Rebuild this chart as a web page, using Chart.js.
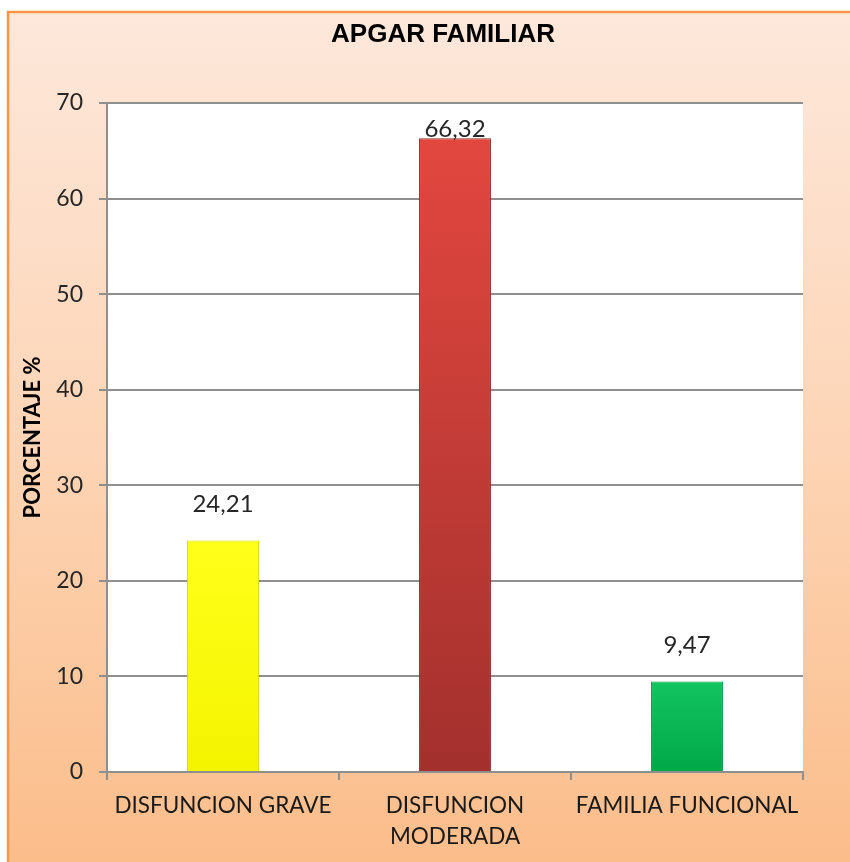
<!DOCTYPE html>
<html>
<head>
<meta charset="utf-8">
<script src="https://cdn.jsdelivr.net/npm/chart.js@4/dist/chart.umd.min.js"></script>
<style>
  html, body { margin: 0; padding: 0; background: #fff; }
  canvas { display: block; }
</style>
</head>
<body>
<canvas id="apgar" width="850" height="862"></canvas>
<script>
const titulo = 'APGAR FAMILIAR'
const categorias = ['DISFUNCION GRAVE', ['DISFUNCION', 'MODERADA'], 'FAMILIA FUNCIONAL']
const porcentajes = [24.21, 66.32, 9.47]
const yTicks = [0, 10, 20, 30, 40, 50, 60, 70]

// colores de las barras (arriba / abajo del degradado)
const coloresArriba = ['#ffff1a', '#e2473f', '#12c45f']
const coloresAbajo = ['#f4f400', '#a3302d', '#00a847']
const coloresBorde = ['#d8d800', '#8e2a28', '#009940']

const gridColor = '#8f8f8f'
const fuente = 'Lato, "Open Sans", sans-serif'

const fondoPlugin = {
  id: 'fondo',
  beforeDraw(chart) {
    const { ctx, width, height, chartArea } = chart
    ctx.save()
    ctx.fillStyle = '#ffffff'
    ctx.fillRect(0, 0, width, height)
    const grad = ctx.createLinearGradient(0, 11, 0, height)
    grad.addColorStop(0, '#fde8db')
    grad.addColorStop(0.5, '#fdd5b6')
    grad.addColorStop(1, '#fbbd8a')
    ctx.fillStyle = grad
    ctx.fillRect(7, 11, width - 7, height - 11)
    ctx.strokeStyle = '#f79646'
    ctx.lineWidth = 2.5
    ctx.beginPath()
    ctx.moveTo(8, height)
    ctx.lineTo(8, 12)
    ctx.lineTo(width, 12)
    ctx.stroke()
    ctx.fillStyle = '#ffffff'
    ctx.fillRect(chartArea.left, chartArea.top, chartArea.right - chartArea.left, chartArea.bottom - chartArea.top)
    // titulo del grafico
    ctx.fillStyle = '#000000'
    ctx.font = 'bold 26px "Liberation Sans", Arial, sans-serif'
    ctx.textAlign = 'center'
    ctx.textBaseline = 'middle'
    ctx.fillText(titulo, 443, 35)
    ctx.restore()
  },
}

const etiquetasPlugin = {
  id: 'etiquetas',
  afterDatasetsDraw(chart) {
    const { ctx, chartArea } = chart
    const meta = chart.getDatasetMeta(0)
    ctx.save()
    ctx.font = '24px ' + fuente
    ctx.fillStyle = '#262626'
    ctx.textAlign = 'center'
    ctx.textBaseline = 'middle'
    meta.data.forEach((bar, i) => {
      const y = Math.max(bar.y - 36, chartArea.top + 26)
      ctx.fillText(porcentajes[i].toFixed(2).replace('.', ','), bar.x, y)
    })
    ctx.restore()
  },
}

function colorBarra(context) {
  const i = context.dataIndex
  const chart = context.chart
  if (!chart.chartArea || context.parsed === undefined) return coloresArriba[i]
  const yScale = chart.scales.y
  const top = yScale.getPixelForValue(porcentajes[i])
  const bottom = yScale.getPixelForValue(0)
  const grad = chart.ctx.createLinearGradient(0, top, 0, bottom)
  grad.addColorStop(0, coloresArriba[i])
  grad.addColorStop(1, coloresAbajo[i])
  return grad
}

new Chart(document.getElementById('apgar'), {
  type: 'bar',
  data: {
    labels: categorias,
    datasets: [{
      data: porcentajes,
      backgroundColor: colorBarra,
      borderColor: coloresBorde,
      borderWidth: 1,
      categoryPercentage: 1,
      barPercentage: 0.31,
    }],
  },
  options: {
    responsive: false,
    animation: false,
    devicePixelRatio: 1,
    layout: { padding: { top: 103, left: 0, right: 47, bottom: 0 } },
    plugins: {
      legend: { display: false },
      tooltip: { enabled: false },
      title: { display: false },
    },
    scales: {
      x: {
        offset: true,
        grid: {
          offset: true,
          drawOnChartArea: false,
          drawTicks: true,
          tickLength: 8,
          color: gridColor,
          lineWidth: 2,
        },
        border: { color: gridColor, width: 2 },
        ticks: {
          color: '#1a1a1a',
          padding: 11,
          maxRotation: 0,
          font: { family: fuente, size: 22.5, lineHeight: 1.35 },
        },
        afterFit(scale) { scale.height = 90 },
      },
      y: {
        min: 0,
        max: 70,
        afterBuildTicks(scale) { scale.ticks = yTicks.map((v) => ({ value: v })) },
        grid: {
          color: gridColor,
          lineWidth: 2,
          tickLength: 8,
        },
        border: { color: gridColor, width: 2 },
        ticks: {
          color: '#262626',
          padding: 16,
          font: { family: fuente, size: 23 },
        },
        title: {
          display: true,
          text: 'PORCENTAJE %',
          color: '#000000',
          padding: { top: 20, bottom: 0 },
          font: { family: fuente, size: 22, weight: 'bold' },
        },
        afterFit(scale) { scale.width = 107 },
      },
    },
  },
  plugins: [fondoPlugin, etiquetasPlugin],
})
</script>
</body>
</html>
